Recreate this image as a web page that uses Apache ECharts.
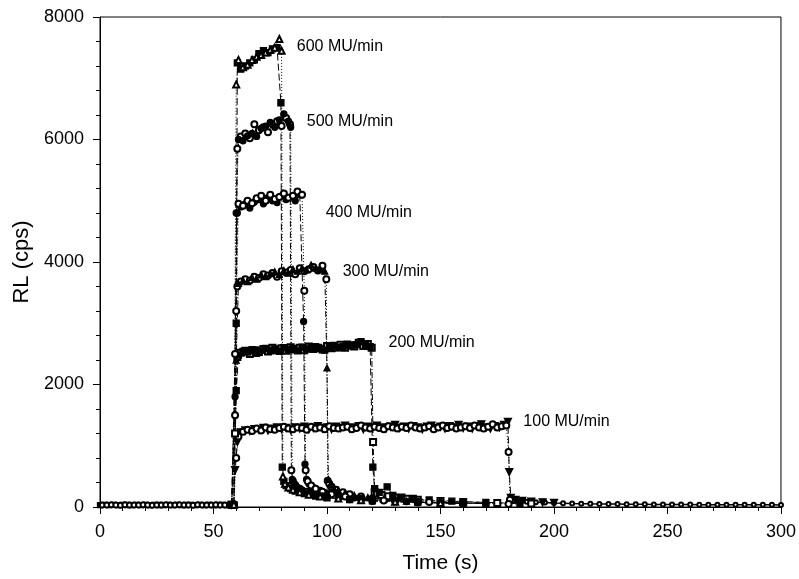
<!DOCTYPE html>
<html>
<head>
<meta charset="utf-8">
<script src="https://cdn.jsdelivr.net/npm/echarts@6.0.0/dist/echarts.min.js"></script>
<style>
  html, body { margin: 0; padding: 0; background: #fff; }
  #main { width: 799px; height: 579px; }
</style>
</head>
<body>
<div id="main"></div>
<script>
// baseline before the beam starts (two interleaved runs)
var baseT = [0, 2, 4, 6, 8, 10, 12, 14, 16, 18, 20, 22, 24, 26, 28, 30, 32, 34, 36, 38, 40, 42, 44, 46, 48, 50, 52, 54, 56, 58];
var baseV = [32, 35, 30, 34, 31, 36, 33, 29, 35, 32, 34, 30, 36, 33, 31, 35, 32, 34, 30, 33, 36, 31, 34, 32, 35, 30, 33, 34, 31, 35];
var baseT2 = [1, 3, 5, 7, 9, 11, 13, 15, 17, 19, 21, 23, 25, 27, 29, 31, 33, 35, 37, 39, 41, 43, 45, 47, 49, 51, 53, 55, 57];
var baseV2 = [34, 31, 36, 33, 30, 35, 32, 34, 31, 36, 33, 30, 34, 32, 35, 31, 33, 36, 32, 34, 30, 35, 33, 31, 34, 36, 32, 33, 30];

// 600 MU/min
var t600a = [58, 60, 60.5, 62, 64, 66, 68, 70, 72, 74, 76, 78, 79.7, 80.3, 81, 82, 84, 86, 90, 95, 100, 110, 120, 140, 160];
var v600a = [35, 3000, 7250, 7150, 7200, 7250, 7300, 7400, 7450, 7420, 7480, 7500, 6600, 650, 420, 350, 300, 260, 220, 180, 150, 120, 100, 75, 60];
var t600b = [59, 60, 61, 63, 65, 67, 69, 71, 73, 75, 77, 79, 80, 80.6, 81.5, 83, 85, 88, 92, 97, 105, 115, 130, 150];
var v600b = [38, 6900, 7300, 7180, 7220, 7300, 7350, 7380, 7420, 7460, 7500, 7640, 7450, 500, 380, 320, 280, 240, 200, 170, 140, 110, 85, 65];

// 500 MU/min
var t500a = [58, 59.5, 60.5, 62, 64, 66, 68, 70, 72, 74, 76, 78, 80, 82, 83.7, 84.3, 85, 86, 88, 91, 95, 100, 110, 120, 140, 160];
var v500a = [36, 2500, 5850, 6050, 6100, 6020, 6250, 6150, 6200, 6120, 6250, 6300, 6220, 6350, 6250, 600, 420, 360, 300, 250, 200, 165, 125, 100, 75, 60];
var t500b = [59, 60, 61, 63, 65, 67, 69, 71, 73, 75, 77, 79, 81, 83, 84, 84.7, 85.5, 87, 89, 93, 98, 105, 115, 130, 150];
var v500b = [40, 4800, 6000, 5980, 6060, 6100, 6050, 6180, 6220, 6280, 6200, 6320, 6420, 6300, 6200, 450, 380, 320, 280, 230, 180, 140, 110, 85, 65];

// 400 MU/min
var t400a = [58, 59.5, 60.5, 62, 64, 66, 68, 70, 72, 74, 76, 78, 80, 82, 84, 86, 88, 89.7, 90.3, 91, 92, 94, 97, 100, 105, 112, 120, 135, 150, 170];
var v400a = [35, 1800, 4800, 4900, 4950, 4880, 4980, 5020, 4950, 5050, 5000, 4970, 5080, 5020, 5060, 5000, 5100, 3030, 700, 450, 380, 320, 270, 230, 190, 150, 120, 90, 70, 55];
var t400b = [59, 60, 61, 63, 65, 67, 69, 71, 73, 75, 77, 79, 81, 83, 85, 87, 89, 90, 90.6, 91.5, 93, 95, 98, 102, 108, 115, 125, 140, 160];
var v400b = [40, 3200, 4950, 4920, 5000, 4960, 5040, 5080, 5000, 5100, 5030, 5060, 5120, 5050, 5080, 5150, 5100, 3530, 600, 420, 350, 300, 250, 210, 170, 135, 105, 80, 60];

// 300 MU/min
var t300a = [58, 59.5, 60.5, 62, 64, 66, 68, 70, 72, 74, 76, 78, 80, 82, 84, 86, 88, 90, 92, 94, 96, 98, 99.7, 100.3, 101, 102, 104, 107, 110, 115, 120, 130, 145, 160, 180];
var v300a = [35, 1500, 3600, 3680, 3720, 3700, 3760, 3740, 3800, 3780, 3820, 3760, 3850, 3830, 3870, 3800, 3900, 3850, 3880, 3920, 3860, 3940, 3720, 430, 380, 330, 280, 240, 210, 170, 140, 105, 80, 65, 50];
var t300b = [59, 60, 61, 63, 65, 67, 69, 71, 73, 75, 77, 79, 81, 83, 85, 87, 89, 91, 93, 95, 97, 99, 100, 100.6, 101.5, 103, 105, 108, 112, 118, 125, 135, 150, 170];
var v300b = [40, 2400, 3650, 3700, 3680, 3750, 3720, 3790, 3760, 3810, 3840, 3800, 3860, 3820, 3880, 3850, 3900, 3870, 3950, 3900, 3880, 3850, 2270, 450, 360, 310, 270, 230, 190, 155, 125, 95, 75, 55];

// 200 MU/min
var t200a = [58, 59.5, 60.5, 62, 64, 66, 68, 70, 72, 74, 76, 78, 80, 82, 84, 86, 88, 90, 92, 94, 96, 98, 100, 102, 104, 106, 108, 110, 112, 114, 116, 118, 119.7, 120.3, 121, 122, 124, 127, 130, 135, 140, 150, 160, 175, 190];
var v200a = [35, 1200, 2450, 2520, 2550, 2500, 2560, 2530, 2580, 2540, 2600, 2560, 2590, 2550, 2610, 2570, 2600, 2560, 2620, 2580, 2600, 2570, 2630, 2590, 2610, 2650, 2600, 2640, 2620, 2680, 2630, 2660, 2600, 1060, 240, 215, 195, 175, 155, 135, 118, 96, 82, 66, 56];
var t200b = [59, 60, 61, 63, 65, 67, 69, 71, 73, 75, 77, 79, 81, 83, 85, 87, 89, 91, 93, 95, 97, 99, 101, 103, 105, 107, 109, 111, 113, 115, 117, 119, 120.2, 121, 123, 126.5, 129, 133, 138, 145, 155, 170, 185];
var v200b = [40, 1900, 2480, 2540, 2530, 2570, 2510, 2560, 2590, 2550, 2580, 2540, 2600, 2570, 2590, 2550, 2610, 2580, 2600, 2620, 2590, 2560, 2610, 2640, 2600, 2620, 2660, 2630, 2650, 2700, 2640, 2620, 650, 300, 240, 330, 190, 160, 140, 115, 95, 75, 60];

// 100 MU/min
var t100a = [58, 59.5, 60.5, 62, 64, 66, 68, 70, 72, 74, 76, 78, 80, 82, 84, 86, 88, 90, 92, 94, 96, 98, 100, 102, 104, 106, 108, 110, 112, 114, 116, 118, 120, 122, 124, 126, 128, 130, 132, 134, 136, 138, 140, 142, 144, 146, 148, 150, 152, 154, 156, 158, 160, 162, 164, 166, 168, 170, 172, 174, 176, 178, 179.7, 180.3, 181, 183, 186, 190, 195, 200];
var v100a = [35, 600, 1060, 1220, 1250, 1240, 1270, 1260, 1290, 1250, 1280, 1300, 1270, 1290, 1260, 1300, 1280, 1310, 1270, 1290, 1320, 1280, 1300, 1270, 1310, 1290, 1330, 1280, 1300, 1320, 1270, 1310, 1290, 1330, 1300, 1280, 1310, 1340, 1290, 1310, 1280, 1320, 1300, 1270, 1310, 1330, 1290, 1310, 1280, 1320, 1300, 1340, 1290, 1310, 1280, 1320, 1350, 1300, 1280, 1320, 1300, 1340, 1390, 570, 150, 115, 98, 86, 76, 66];
var t100b = [59, 60, 61, 63, 65, 67, 69, 71, 73, 75, 77, 79, 81, 83, 85, 87, 89, 91, 93, 95, 97, 99, 101, 103, 105, 107, 109, 111, 113, 115, 117, 119, 121, 123, 125, 127, 129, 131, 133, 135, 137, 139, 141, 143, 145, 147, 149, 151, 153, 155, 157, 159, 161, 163, 165, 167, 169, 171, 173, 175, 177, 179, 180, 180.6];
var v100b = [40, 800, 1150, 1230, 1260, 1240, 1280, 1250, 1300, 1270, 1260, 1290, 1310, 1280, 1270, 1300, 1290, 1260, 1310, 1280, 1300, 1270, 1320, 1290, 1280, 1300, 1310, 1270, 1290, 1330, 1300, 1280, 1310, 1290, 1270, 1320, 1300, 1280, 1310, 1290, 1330, 1300, 1280, 1300, 1320, 1270, 1300, 1330, 1290, 1310, 1280, 1300, 1320, 1290, 1330, 1300, 1280, 1310, 1350, 1300, 1320, 1330, 900, 120];
var tail100T = [182, 185, 188, 192, 196, 200, 204, 208, 212, 216, 220, 224, 228, 232, 236, 240, 244, 248, 252, 256, 260, 264, 268, 272, 276, 280, 284, 288, 292, 296, 300];
var tail100V = [100, 90, 85, 78, 72, 66, 62, 58, 55, 52, 50, 48, 47, 45, 44, 43, 42, 41, 40, 40, 39, 38, 38, 37, 37, 36, 36, 35, 35, 35, 34];

// curve labels
var labelText = ['600 MU/min', '500 MU/min', '400 MU/min', '300 MU/min', '200 MU/min', '100 MU/min'];
var labelT = [86.7, 91.1, 99.4, 106.9, 127.1, 186.5];
var labelV = [7510, 6290, 4800, 3850, 2680, 1400];

var xTicks = [0, 50, 100, 150, 200, 250, 300];
var yTicks = [0, 2000, 4000, 6000, 8000];

var LONG = [7, 3], DASHDOT = [6, 2, 1, 2], DOT = [1, 2], SOLID = 'solid';

function pairs(t, v) {
    return t.map(function (x, i) { return [x, v[i]]; });
}

function run(t, v, symbol, dash, size, rotate, lw) {
    return {
        type: 'line',
        data: pairs(t, v),
        symbol: symbol,
        symbolSize: size || 6,
        symbolRotate: rotate || 0,
        showAllSymbol: true,
        silent: true,
        lineStyle: { color: '#000', width: lw || 1, type: dash },
        itemStyle: { color: '#000', borderColor: '#000', borderWidth: 1.3 },
        z: 3
    };
}

var series = [
    run(baseT, baseV, 'rect', SOLID, 5, 0, 2),
    run(baseT2, baseV2, 'emptyCircle', SOLID, 5, 0, 2),
    run(tail100T, tail100V, 'emptyCircle', SOLID, 4, 0, 1.5),
    run(t100a, v100a, 'triangle', LONG, 7, 180),
    run(t100b, v100b, 'emptyCircle', DOT, 6),
    run(t200a, v200a, 'emptyRect', DASHDOT, 6),
    run(t200b, v200b, 'rect', LONG, 6),
    run(t300a, v300a, 'emptyCircle', DOT, 6),
    run(t300b, v300b, 'triangle', DASHDOT, 6),
    run(t400a, v400a, 'circle', LONG, 6),
    run(t400b, v400b, 'emptyCircle', DOT, 6),
    run(t500a, v500a, 'emptyCircle', DASHDOT, 6),
    run(t500b, v500b, 'circle', DOT, 6),
    run(t600a, v600a, 'rect', LONG, 6),
    run(t600b, v600b, 'emptyTriangle', DOT, 6),
    {
        type: 'scatter',
        symbolSize: 0,
        silent: true,
        itemStyle: { opacity: 1 },
        data: labelT.map(function (t, i) { return { value: [t, labelV[i]], name: labelText[i] }; }),
        label: {
            show: true,
            position: 'right',
            distance: 0,
            formatter: '{b}',
            color: '#000',
            opacity: 1,
            fontFamily: 'Liberation Sans',
            fontSize: 16
        },
        z: 5
    }
];

var myChart = echarts.init(document.getElementById('main'));
myChart.setOption({
    animation: false,
    backgroundColor: '#fff',
    grid: {
        left: 100,
        right: 17,
        top: 17,
        bottom: 72,
        show: true,
        borderColor: '#000',
        borderWidth: 1
    },
    xAxis: {
        type: 'value',
        min: xTicks[0],
        max: xTicks[xTicks.length - 1],
        interval: 50,
        name: 'Time (s)',
        nameLocation: 'middle',
        nameGap: 46,
        nameTextStyle: { color: '#000', fontFamily: 'Liberation Sans', fontSize: 21 },
        axisLine: { lineStyle: { color: '#000', width: 1 } },
        axisTick: { length: 7, lineStyle: { color: '#000' } },
        minorTick: { show: true, splitNumber: 5, length: 4, lineStyle: { color: '#000' } },
        axisLabel: { color: '#000', fontFamily: 'Liberation Sans', fontSize: 18, margin: 16,
            formatter: function (v) { return String(v); } },
        splitLine: { show: false }
    },
    yAxis: {
        type: 'value',
        min: yTicks[0],
        max: yTicks[yTicks.length - 1],
        interval: 2000,
        name: 'RL (cps)',
        nameLocation: 'middle',
        nameGap: 64,
        nameTextStyle: { color: '#000', fontFamily: 'Liberation Sans', fontSize: 22 },
        axisLine: { lineStyle: { color: '#000', width: 1 } },
        axisTick: { length: 7, lineStyle: { color: '#000' } },
        minorTick: { show: true, splitNumber: 5, length: 4, lineStyle: { color: '#000' } },
        axisLabel: { color: '#000', fontFamily: 'Liberation Sans', fontSize: 18, margin: 16,
            formatter: function (v) { return String(v); } },
        splitLine: { show: false }
    },
    series: series
});
</script>
</body>
</html>
